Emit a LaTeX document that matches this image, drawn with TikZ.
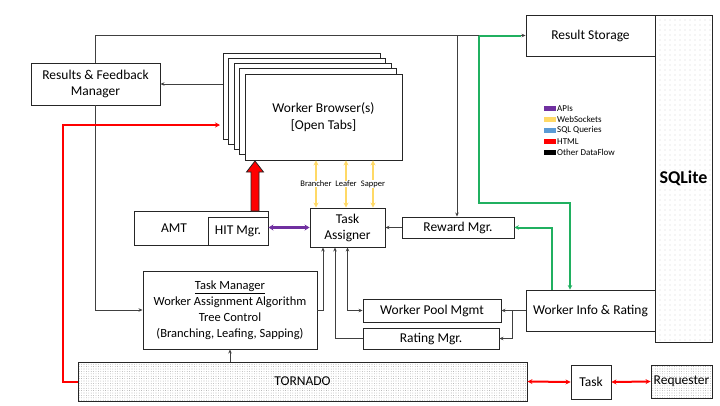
\documentclass[tikz,border=0pt]{standalone}
\usepackage{fontspec}
\setmainfont{Carlito}
\usetikzlibrary{arrows.meta,calc,patterns.meta}
\definecolor{apipurple}{RGB}{112, 48, 160}
\definecolor{wsyellow}{RGB}{255, 217, 102}
\definecolor{sqlblue}{RGB}{91, 155, 213}
\definecolor{htmlred}{RGB}{255, 0, 0}
\definecolor{dbgreen}{RGB}{32, 176, 96}
\definecolor{linegray}{RGB}{64, 64, 64}
\tikzset{
  box/.style={draw=black!85, fill=white, line width=0.9pt, inner sep=0pt, align=center,
              font=\fontsize{13.5}{16}\selectfont},
  dotsfine/.style={pattern={Dots[distance=2.4pt, radius=0.3pt]}, pattern color=black!65},
  dotswide/.style={pattern={Dots[distance=5pt, radius=0.3pt]}, pattern color=black!50},
  flow/.style={draw=linegray, line width=0.8pt, -{Stealth[length=4pt, width=3.5pt]}},
  flowboth/.style={flow, {Stealth[length=4pt, width=3.5pt]}-{Stealth[length=4pt, width=3.5pt]}},
  dbline/.style={draw=dbgreen, line width=2pt, -{Stealth[length=4.5pt, width=4.5pt]}},
  htmlline/.style={draw=htmlred, line width=2pt, -{Stealth[length=5pt, width=5pt]}},
  htmlboth/.style={htmlline, {Stealth[length=5pt, width=5pt]}-{Stealth[length=5pt, width=5pt]}},
  apiline/.style={draw=apipurple, line width=2.4pt, {Stealth[length=5pt, width=6pt]}-{Stealth[length=5pt, width=6pt]}},
  wsline/.style={draw=wsyellow, line width=1.6pt, {Stealth[length=5pt, width=5pt]}-{Stealth[length=5pt, width=5pt]}},
  wslabel/.style={fill=white, inner sep=0.5pt, font=\fontsize{8.5}{9}\selectfont},
  legtext/.style={anchor=west, inner sep=0.5pt, font=\fontsize{9}{9}\selectfont}
}
\begin{document}
\begin{tikzpicture}[x=1pt, y=-1pt]
\useasboundingbox (0,0) rectangle (720,405);

% storage and database
\node[box, dotswide, minimum width=57,  minimum height=327, font=\fontsize{18}{18}\selectfont\bfseries] (sqlite) at (683.5,178.5) {SQLite};
\node[box, minimum width=129, minimum height=41] (storage) at (590.5,35.5) {Result Storage};

% stacked browser tabs
\foreach \k in {4,...,1}
  \node[box, minimum width=157, minimum height=86] (wb\k) at ($(323.5,117)+(-5.5*\k,-5.25*\k)$) {};
\node[box, minimum width=157, minimum height=86, font=\fontsize{13.5}{17}\selectfont] (wb0) at (323.5,117) {Worker Browser(s)\\{}[Open Tabs]};

\node[box, minimum width=129, minimum height=42] (rfm) at (95.5,84) {Results \& Feedback\\Manager};

\node[box, minimum width=134, minimum height=34, label={[xshift=-27pt, font=\fontsize{13.5}{16}\selectfont]center:AMT}] (amt) at (201,228) {};
\node[box, minimum width=60,  minimum height=28] (hit) at (238,231) {HIT Mgr.};
\node[box, minimum width=75,  minimum height=39] (assigner) at (347.5,227.5) {Task\\Assigner};
\node[box, minimum width=112, minimum height=21] (reward) at (458,227.5) {Reward Mgr.};

\node[box, minimum width=174, minimum height=78, font=\fontsize{12.5}{16}\selectfont] (taskmgr) at (230,310)
  {\underline{Task Manager}\\Worker Assignment Algorithm\\Tree Control\\(Branching, Leafing, Sapping)};
\node[box, minimum width=138, minimum height=23] (pool) at (432,310.5) {Worker Pool Mgmt};
\node[box, minimum width=136, minimum height=21] (rating) at (431,338.5) {Rating Mgr.};
\node[box, minimum width=129, minimum height=41] (info) at (590.5,310.5) {Worker Info \& Rating};

\node[box, dotsfine, minimum width=449, minimum height=39] (tornado) at (302.5,381.5) {TORNADO};
\node[box, minimum width=40, minimum height=34] (task) at (591,382) {Task};
\node[box, dotsfine, minimum width=61, minimum height=33] (requester) at (681.5,381.5) {Requester};

% legend
\foreach \c/\t [count=\i] in {apipurple/APIs, wsyellow/WebSockets, sqlblue/SQL Queries, htmlred/HTML, black/Other DataFlow} {
  \fill[\c] (544,95+10.9*\i) rectangle +(12,5.4);
  \node[legtext] (leg\i) at (556.5,97.7+10.9*\i) {\t};
}

% other data flow
\coordinate (topleft) at (rfm.north |- storage.west);
\coordinate (rwtap)   at (457,35.5);
\coordinate (gtap)    at (479,35.5);
\draw[flow] (rfm.north) -- (topleft) -- (storage.west);
\draw[flow] (rfm.south) |- (taskmgr.west);
\draw[flow] (rwtap) -- (rwtap |- reward.north);
\draw[flow] (rfm.east -| wb4.west) -- (rfm.east);
\draw[flow] (reward.west) -- (reward.west -| assigner.east);
\path (assigner.south) ++(-24.5,0) coordinate (as1) ++(12,0) coordinate (as2);
\draw[flow] (taskmgr.east) -| (as1);
\draw[flow] (rating.west) -| (as2);
\draw[flowboth] (pool.west) -| (assigner.south);
\coordinate (ij) at ($(info.west)+(-13,0)$);
\draw[flow] (info.west) -- (pool.east);
\draw[flow] (ij) |- (rating.east);
\draw[flow] (tornado.north -| taskmgr.south) -- (taskmgr.south);

% database links
\draw[dbline, -] (gtap) -- ($(storage.west)+(-4.5,0)$);
\draw[dbline] (gtap) -- ++(0,167.5) -| ($(info.north)+(-20.5,0)$);
\draw[dbline] ($(info.north)+(-38.5,0)$) |- (reward.east);

% html
\coordinate (htmlend) at (220,125);
\draw[htmlline] (tornado.west) -- ++(-15,0) |- (htmlend);
\draw[htmlboth] (tornado.east) -- (task.west);
\draw[htmlboth] (task.east) -- (requester.west);
\filldraw[fill=htmlred, draw=black!85, line width=0.8pt]
  (251,211) -- (251,172) -- (246.5,172) -- (255,161) -- (263.5,172) -- (259,172) -- (259,211) -- cycle;

% apis and websockets
\draw[apiline] (hit.east |- assigner.west) -- (assigner.west);
\foreach \dx/\lbl [count=\i] in {-31.5/Brancher, -1.5/Leafer, 25.5/Sapper} {
  \path (assigner.north) ++(\dx,0) coordinate (ya\i);
  \draw[wsline] (ya\i) -- node[wslabel] (yl\i) {\lbl} (ya\i |- wb0.south);
}
\end{tikzpicture}
\end{document}
